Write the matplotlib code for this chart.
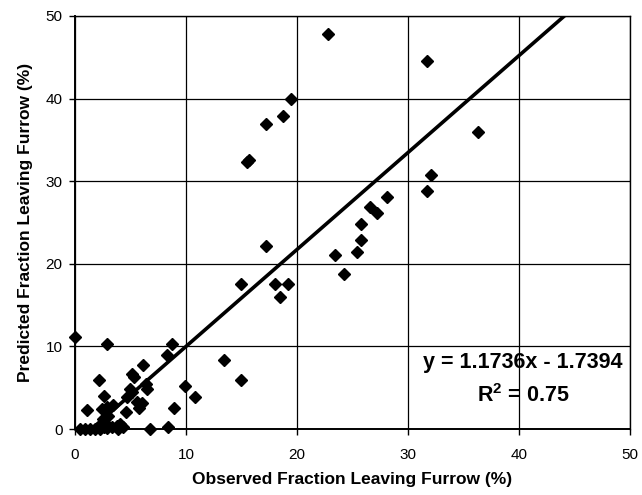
import matplotlib
matplotlib.use("Agg")
import matplotlib.pyplot as plt
import numpy as np

plt.rcParams['font.family'] = ['Liberation Sans', 'DejaVu Sans']
plt.rcParams['mathtext.fontset'] = 'custom'
plt.rcParams['mathtext.rm'] = 'Liberation Sans'
plt.rcParams['mathtext.bf'] = 'Liberation Sans:bold'

observed = [22.8, 31.7, 19.5, 18.7, 17.2, 36.3, 15.5, 15.7, 32.1, 31.7, 28.1, 26.6, 27.2,
            25.8, 25.8, 17.2, 25.4, 23.4, 24.2, 15.0, 18.0, 19.2, 18.5,
            0.0, 2.9, 8.7, 8.3, 13.4, 6.1, 5.1, 5.3, 2.2, 15.0, 6.4, 6.5, 9.9, 5.0, 5.1,
            10.8, 2.6, 4.65, 5.55, 6.0, 5.8, 8.9, 4.6, 1.1, 2.4, 2.85, 3.45, 2.5, 2.6, 3.0,
            0.45, 0.9, 1.35, 1.8, 2.25, 2.85, 3.3, 3.75, 4.05, 4.35, 3.9, 2.6, 6.75, 8.4]
predicted = [47.8, 44.5, 40.0, 37.9, 36.9, 36.0, 32.3, 32.6, 30.8, 28.8, 28.1, 26.9, 26.2,
             24.8, 22.9, 22.2, 21.4, 21.1, 18.8, 17.6, 17.5, 17.6, 16.0,
             11.1, 10.3, 10.3, 9.0, 8.3, 7.8, 6.7, 6.3, 5.9, 5.9, 5.4, 4.9, 5.2, 4.8, 4.5,
             3.9, 4.0, 3.9, 3.3, 3.1, 2.5, 2.6, 2.1, 2.3, 2.4, 2.7, 2.9, 1.2, 0.8, 1.6,
             0.0, 0.0, 0.0, 0.0, 0.0, 0.1, 0.3, 0.4, 0.6, 0.2, 0.0, 0.2, 0.0, 0.2]

slope = 1.1736
intercept = -1.7394
r2 = 0.75
ticks = [0, 10, 20, 30, 40, 50]

fig = plt.figure(figsize=(6.42, 4.95), dpi=100)
ax = fig.add_axes([0.1168, 0.1333, 0.8645, 0.8344])

ax.set_xlim(0, 50)
ax.set_ylim(0, 50)
ax.set_xticks(ticks)
ax.set_yticks(ticks)
ax.grid(True, color='black', linewidth=0.9)
ax.set_axisbelow(True)

x0 = -intercept / slope
xl = np.array([x0, 50])
ax.plot(xl, slope * xl + intercept, color='black', linewidth=2.6, zorder=2)

ax.plot(observed, predicted, linestyle='none', marker='D', markersize=6.3,
        color='black', zorder=3, clip_on=False)

for s in ax.spines.values():
    s.set_color('black')
    s.set_linewidth(1.0)
ax.spines['left'].set_linewidth(1.4)
ax.spines['bottom'].set_linewidth(1.4)

ax.tick_params(direction='out', length=4, width=1, labelsize=11)
ax.tick_params(axis='x', pad=10)
ax.tick_params(axis='y', pad=5)

ax.set_xlabel('Observed Fraction Leaving Furrow (%)', fontsize=12.5, fontweight='bold', labelpad=7)
ax.set_ylabel('Predicted Fraction Leaving Furrow (%)', fontsize=12.5, fontweight='bold', labelpad=9)

ax.text(40.35, 8.0, 'y = 1.1736x - 1.7394', fontsize=15.5, fontweight='bold',
        ha='center', va='center', zorder=4)
ax.text(40.35, 4.1, '$\\mathbf{R}^{\\mathbf{2}}$ = 0.75', fontsize=15.5, fontweight='bold',
        ha='center', va='center', zorder=4)

fig.savefig('out.png', dpi=100)
